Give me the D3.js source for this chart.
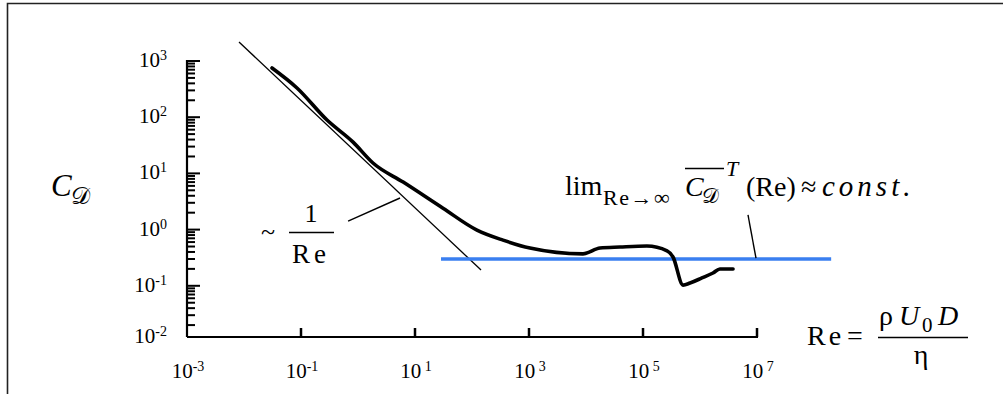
<!DOCTYPE html>
<html lang="en">
<head>
  <meta charset="UTF-8">
  <title>Drag coefficient</title>
  <style>
    body { margin: 0; background: #fff; }
    svg { display: block; font-family: "Liberation Serif", "DejaVu Serif", serif; }
  </style>
</head>
<body>
<svg id="chart" width="1003" height="394"></svg>

<script src="https://d3js.org/d3.v7.min.js"></script>
<script>
// measured curve C_D(Re)
var reCurve = [0.031, 0.085, 0.286, 0.82, 1.83, 6.2, 31, 122, 350, 1040, 8860, 17600, 39400, 117000, 264000, 336000, 504000, 668000, 1.08e6, 1.69e6, 2.24e6, 3.8e6];
var cdCurve = [750, 331, 89, 36, 15.3, 7.0, 2.4, 0.98, 0.65, 0.47, 0.37, 0.47, 0.49, 0.51, 0.42, 0.325, 0.103, 0.112, 0.138, 0.169, 0.199, 0.199];

// ~1/Re asymptote (end points)
var reSlope = [0.00817, 144];
var cdSlope = [2180, 0.191];

// high-Re limit
var reLimit = [28.6, 2e8];
var cdLimit = [0.30, 0.30];

// leader lines
var leaderSlope = [[0.67, 1.42], [5.46, 3.65]];
var leaderLimit = [[6.95e6, 1.82], [9.6e6, 0.31]];

var yTicks = [1e3, 1e2, 1e1, 1e0, 1e-1, 1e-2];
var yExp = ["3", "2", "1", "0", "-1", "-2"];
var xTicks = [1e-3, 1e-1, 1e1, 1e3, 1e5, 1e7];
var xExp = ["-3", "-1", " 1", " 3", " 5", " 7"];

var svg = d3.select("#chart");

var x = d3.scaleLog().domain([1e-3, 1e7]).range([187, 757]);
var y = d3.scaleLog().domain([1e-2, 1e3]).range([342, 61]);
var axisY = 337;   // x axis sits a bit above 10^-2
var axisX = x(1e-3);

// frame
svg.append("path")
  .attr("d", "M7.5,400 V3.5 H1010")
  .attr("fill", "none").attr("stroke", "#222").attr("stroke-width", 1.6);

// minor y ticks
var minor = [];
[-2, -1, 0, 1, 2].forEach(function (d) {
  for (var k = 2; k <= 9; k++) minor.push(k * Math.pow(10, d));
});
svg.append("g").selectAll("line").data(minor).join("line")
  .attr("x1", axisX).attr("x2", axisX + 8)
  .attr("y1", function (d) { return y(d); }).attr("y2", function (d) { return y(d); })
  .attr("stroke", "#000").attr("stroke-width", 2);

svg.append("g").selectAll("line").data(yTicks.slice(0, 5)).join("line")
  .attr("x1", axisX).attr("x2", axisX + 13)
  .attr("y1", function (d) { return y(d); }).attr("y2", function (d) { return y(d); })
  .attr("stroke", "#000").attr("stroke-width", 2);

// x ticks (every two decades, pointing up)
svg.append("g").selectAll("line").data(xTicks.slice(1)).join("line")
  .attr("x1", function (d) { return x(d); }).attr("x2", function (d) { return x(d); })
  .attr("y1", axisY).attr("y2", axisY - 9)
  .attr("stroke", "#000").attr("stroke-width", 2.5);

// axis lines
svg.append("line").attr("x1", axisX).attr("x2", axisX).attr("y1", y(1e3) - 1).attr("y2", axisY)
  .attr("stroke", "#000").attr("stroke-width", 2.2);
svg.append("line").attr("x1", axisX).attr("x2", x(1e7) + 1).attr("y1", axisY).attr("y2", axisY)
  .attr("stroke", "#000").attr("stroke-width", 2.2);

// y tick labels
var yl = svg.append("g").selectAll("text").data(yTicks).join("text")
  .attr("x", axisX - 20)
  .attr("y", function (d, i) { return i == 5 ? axisY + 6 : y(d) + 6; })
  .attr("text-anchor", "end")
  .attr("font-size", 21);
yl.append("tspan").text("10");
yl.append("tspan").attr("font-size", 14).attr("dy", -7).text(function (d, i) { return yExp[i]; });

// x tick labels
var xl = svg.append("g").selectAll("text").data(xTicks).join("text")
  .attr("x", function (d) { return x(d) + 1; })
  .attr("y", 378)
  .attr("text-anchor", "middle")
  .attr("font-size", 21)
  .attr("xml:space", "preserve");
xl.append("tspan").text("10");
xl.append("tspan").attr("font-size", 14).attr("dy", -7).text(function (d, i) { return xExp[i]; });

// lines
var line = d3.line()
  .x(function (d) { return x(d[0]); })
  .y(function (d) { return y(d[1]); });

svg.append("path")
  .datum(d3.zip(reSlope, cdSlope))
  .attr("d", line)
  .attr("fill", "none").attr("stroke", "#000").attr("stroke-width", 1.3);

svg.append("path")
  .datum(d3.zip(reLimit, cdLimit))
  .attr("d", line)
  .attr("fill", "none").attr("stroke", "#3a7ff0").attr("stroke-width", 3.6);

svg.append("path")
  .datum(d3.zip(reCurve, cdCurve))
  .attr("d", line.curve(d3.curveMonotoneX))
  .attr("fill", "none").attr("stroke", "#000").attr("stroke-width", 3.6)
  .attr("stroke-linejoin", "round").attr("stroke-linecap", "round");
line.curve(d3.curveLinear);

[leaderSlope, leaderLimit].forEach(function (l) {
  svg.append("path").datum(l).attr("d", line)
    .attr("fill", "none").attr("stroke", "#000").attr("stroke-width", 1.4);
});

// y axis title
svg.append("text").attr("x", 51).attr("y", 196).attr("font-size", 31)
  .attr("font-style", "italic").text("C");
svg.append("text").attr("x", 71).attr("y", 204).attr("font-size", 24)
  .text("\u{1D49F}");

// ~ 1/Re
svg.append("text").attr("x", 261).attr("y", 240).attr("font-size", 26).text("~");
svg.append("text").attr("x", 311).attr("y", 222).attr("font-size", 26)
  .attr("text-anchor", "middle").text("1");
svg.append("line").attr("x1", 289).attr("x2", 334).attr("y1", 232.5).attr("y2", 232.5)
  .attr("stroke", "#000").attr("stroke-width", 1.4);
svg.append("text").attr("x", 292).attr("y", 263).attr("font-size", 27)
  .attr("letter-spacing", 4).text("Re");

// lim label
svg.append("text").attr("x", 565).attr("y", 195).attr("font-size", 28).text("lim");
svg.append("text").attr("x", 603).attr("y", 205).attr("font-size", 22)
  .attr("letter-spacing", 1.5).text("Re\u2192\u221E");
svg.append("line").attr("x1", 685).attr("x2", 724).attr("y1", 168.5).attr("y2", 168.5)
  .attr("stroke", "#000").attr("stroke-width", 1.4);
svg.append("text").attr("x", 685).attr("y", 196).attr("font-size", 28)
  .attr("font-style", "italic").text("C");
svg.append("text").attr("x", 702).attr("y", 203).attr("font-size", 21).text("\u{1D49F}");
svg.append("text").attr("x", 726).attr("y", 176).attr("font-size", 22)
  .attr("font-style", "italic").text("T");
svg.append("text").attr("x", 746).attr("y", 196).attr("font-size", 28).text("(Re)");
svg.append("text").attr("x", 801).attr("y", 196).attr("font-size", 28).text("\u2248");
svg.append("text").attr("x", 822).attr("y", 196).attr("font-size", 29)
  .attr("font-style", "italic").attr("letter-spacing", 4).text("const.");

// Re = rho U0 D / eta
svg.append("text").attr("x", 807).attr("y", 345).attr("font-size", 28)
  .attr("letter-spacing", 3).text("Re");
svg.append("text").attr("x", 847).attr("y", 345).attr("font-size", 28).text("=");
svg.append("line").attr("x1", 878).attr("x2", 968).attr("y1", 337.5).attr("y2", 337.5)
  .attr("stroke", "#000").attr("stroke-width", 1.4);
svg.append("text").attr("x", 879).attr("y", 325).attr("font-size", 28).text("\u03C1");
svg.append("text").attr("x", 899).attr("y", 325).attr("font-size", 28)
  .attr("font-style", "italic").text("U");
svg.append("text").attr("x", 922).attr("y", 332).attr("font-size", 21).text("0");
svg.append("text").attr("x", 938).attr("y", 325).attr("font-size", 28)
  .attr("font-style", "italic").text("D");
svg.append("text").attr("x", 921).attr("y", 364).attr("font-size", 28)
  .attr("text-anchor", "middle").text("\u03B7");
</script>
</body>
</html>
